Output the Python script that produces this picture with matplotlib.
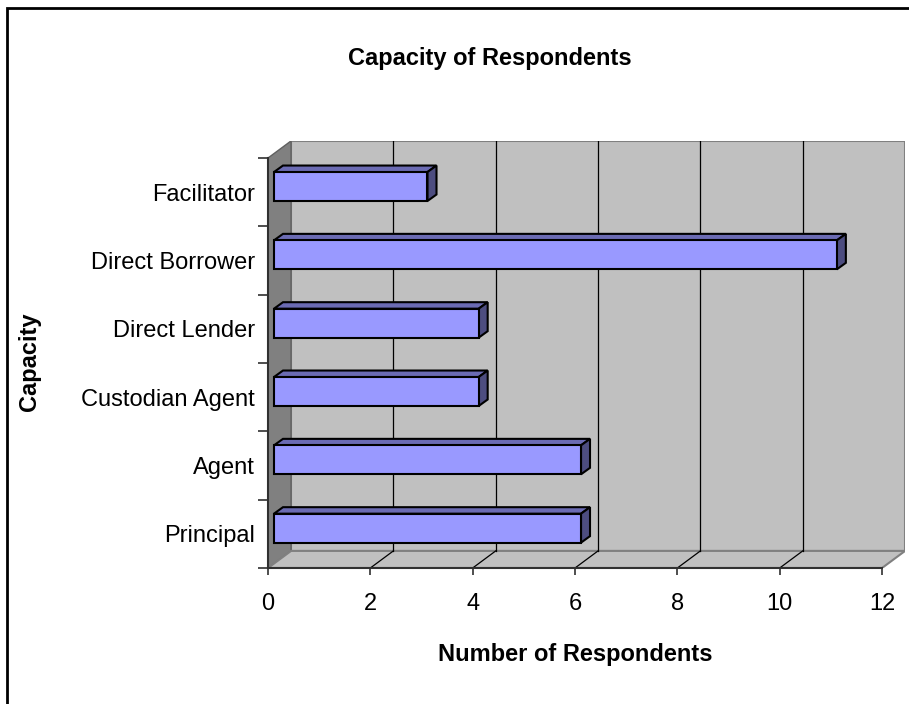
import matplotlib
matplotlib.use("Agg")
import matplotlib.pyplot as plt
from matplotlib.patches import Polygon, Rectangle

plt.rcParams['font.family'] = ['Liberation Sans', 'DejaVu Sans']

categories = ['Principal', 'Agent', 'Custodian Agent', 'Direct Lender',
              'Direct Borrower', 'Facilitator']
counts = [6, 6, 4, 4, 11, 3]
x_ticks = [0, 2, 4, 6, 8, 10, 12]

W, H = 909, 704
fig = plt.figure(figsize=(W / 100, H / 100), dpi=100)

# pseudo-3d depth of the chart box (data units)
xmax, ncat = 12, len(categories)
dx, dy = 0.45, 0.25
# bar placement inside the box
bx0, by0 = 0.117, 0.083       # front face offset from the front plane
bdx, bdy = 0.176, 0.095       # bar depth
bh = 0.424                    # bar thickness

px_x = 51.17
px_y = 68.33
left, bottom = 268, 704 - 568
ax = fig.add_axes([left / W, bottom / H,
                   (xmax + dx) * px_x / W, (ncat + dy) * px_y / H])
ax.set_xlim(0, xmax + dx)
ax.set_ylim(0, ncat + dy)

wall = '#C0C0C0'
edge = '#808080'

# back wall
ax.add_patch(Rectangle((dx, dy), xmax, ncat, facecolor=wall,
                       edgecolor=edge, lw=1.5, zorder=1))
# side wall
ax.add_patch(Polygon([(0, 0), (dx, dy), (dx, ncat + dy), (0, ncat)],
                     closed=True, facecolor='#808080', edgecolor='#606060',
                     lw=1, zorder=2))
# floor
ax.add_patch(Polygon([(0, 0), (xmax, 0), (xmax + dx, dy), (dx, dy)],
                     closed=True, facecolor=wall, edgecolor=edge,
                     lw=1.5, zorder=2))

# gridlines on the wall and the floor
for t in x_ticks[1:-1]:
    ax.plot([t + dx, t + dx], [dy, ncat + dy], color='black', lw=0.9, zorder=3)
    ax.plot([t, t + dx], [0, dy], color='black', lw=0.9, zorder=3)

# bars
for i, v in enumerate(counts):
    y0 = i + 0.5 - bh / 2 + by0
    x0 = bx0
    x1 = bx0 + v
    front = [(x0, y0), (x1, y0), (x1, y0 + bh), (x0, y0 + bh)]
    top = [(x0, y0 + bh), (x1, y0 + bh), (x1 + bdx, y0 + bh + bdy),
           (x0 + bdx, y0 + bh + bdy)]
    side = [(x1, y0), (x1 + bdx, y0 + bdy), (x1 + bdx, y0 + bh + bdy),
            (x1, y0 + bh)]
    ax.add_patch(Polygon(top, closed=True, facecolor='#6B6BB3',
                         edgecolor='black', lw=1.5, zorder=5))
    ax.add_patch(Polygon(side, closed=True, facecolor='#4D4D80',
                         edgecolor='black', lw=1.5, zorder=5))
    ax.add_patch(Polygon(front, closed=True, facecolor='#9999FF',
                         edgecolor='black', lw=1.5, zorder=6))

# axes
for s in ['top', 'right']:
    ax.spines[s].set_visible(False)
ax.spines['left'].set_bounds(0, ncat)
ax.spines['bottom'].set_bounds(0, xmax)
for s in ['left', 'bottom']:
    ax.spines[s].set_color('#303030')
    ax.spines[s].set_linewidth(1.5)
    ax.spines[s].set_zorder(4)

ax.set_xticks(x_ticks)
ax.set_xticklabels([str(t) for t in x_ticks])
ax.tick_params(axis='x', direction='out', length=5, width=1.2,
               color='#303030', labelsize=17, pad=13)

ax.set_yticks(range(ncat + 1))
ax.set_yticklabels([])
ax.set_yticks([i + 0.5 for i in range(ncat)], minor=True)
ax.set_yticklabels(categories, minor=True)
ax.tick_params(axis='y', which='major', direction='out', length=7.2,
               width=1.2, color='#303030')
ax.tick_params(axis='y', which='minor', length=0, labelsize=17, pad=9.4)

fig.text(490 / W, 1 - 58 / H, 'Capacity of Respondents', ha='center',
         va='center', fontsize=17, fontweight='bold')
fig.text(575 / W, 1 - 655 / H, 'Number of Respondents', ha='center',
         va='center', fontsize=17, fontweight='bold')
fig.text(30 / W, 1 - 362 / H, 'Capacity', ha='center', va='center',
         rotation=90, fontsize=17, fontweight='bold')

# chart border
fig.patches.append(Rectangle((7 / W, -0.1), 1.2, 1.1 - 8 / H,
                             transform=fig.transFigure, fill=False,
                             edgecolor='black', lw=2))

fig.savefig('out.png', dpi=100)
